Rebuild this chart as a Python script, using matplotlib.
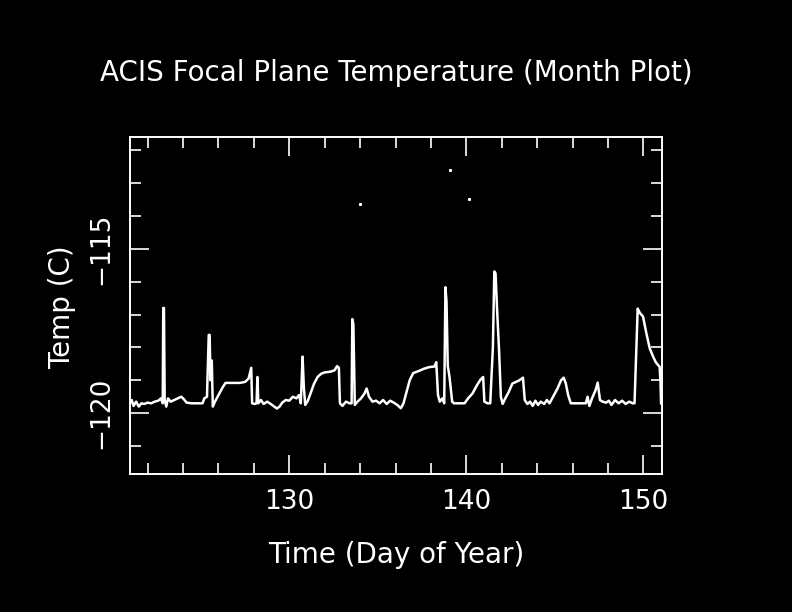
import numpy as np
import matplotlib
matplotlib.use("Agg")
import matplotlib.pyplot as plt
from matplotlib.ticker import MultipleLocator

# ACIS focal plane temperature, one month (day of year, deg C)
day = [121.00, 121.10, 121.20, 121.35, 121.50, 121.65, 121.80, 122.00, 122.20, 122.40,
       122.60, 122.75, 122.85, 122.88, 122.92, 122.96, 123.05, 123.15, 123.30, 123.50,
       123.70, 123.90, 124.05, 124.20, 124.50, 124.80, 125.10, 125.20, 125.35, 125.45,
       125.50, 125.55, 125.62, 125.68, 125.80, 125.95, 126.10, 126.25, 126.40, 126.60,
       126.90, 127.20, 127.50, 127.70, 127.85, 127.90, 128.05, 128.15, 128.20, 128.25,
       128.40, 128.55, 128.75, 128.95, 129.15, 129.30, 129.45, 129.60, 129.80, 130.00,
       130.20, 130.40, 130.55, 130.65, 130.75, 130.82, 130.90, 131.05, 131.20, 131.40,
       131.60, 131.80, 132.00, 132.30, 132.55, 132.70, 132.80, 132.86, 133.00, 133.20,
       133.40, 133.52, 133.56, 133.62, 133.70, 133.85, 134.05, 134.25, 134.37, 134.50,
       134.70, 134.90, 135.10, 135.30, 135.50, 135.70, 135.90, 136.10, 136.30, 136.45,
       136.60, 136.80, 137.00, 137.30, 137.60, 137.90, 138.20, 138.30, 138.40, 138.50,
       138.65, 138.75, 138.82, 138.88, 138.95, 139.05, 139.20, 139.30, 139.60, 139.90,
       140.10, 140.35, 140.60, 140.80, 140.95, 141.02, 141.20, 141.35, 141.50, 141.58,
       141.65, 141.75, 141.85, 141.95, 142.05, 142.20, 142.40, 142.60, 142.80, 143.00,
       143.20, 143.30, 143.45, 143.60, 143.75, 143.90, 144.05, 144.20, 144.40, 144.55,
       144.70, 144.90, 145.15, 145.35, 145.50, 145.62, 145.75, 145.90, 146.20, 146.50,
       146.75, 146.85, 146.95, 147.10, 147.30, 147.42, 147.55, 147.70, 147.90, 148.05,
       148.20, 148.40, 148.60, 148.80, 149.00, 149.20, 149.40, 149.50, 149.60, 149.68,
       149.80, 149.98, 150.17, 150.36, 150.55, 150.70, 150.85, 150.92, 150.97, 151.00]

temp = [-119.70, -119.60, -119.78, -119.65, -119.80, -119.70, -119.72, -119.68, -119.70, -119.65,
        -119.62, -119.55, -119.70, -116.80, -116.80, -119.60, -119.80, -119.55, -119.65, -119.60,
        -119.55, -119.50, -119.58, -119.68, -119.70, -119.70, -119.70, -119.55, -119.50, -117.62,
        -117.62, -119.00, -118.40, -119.80, -119.65, -119.50, -119.35, -119.20, -119.08, -119.08,
        -119.08, -119.08, -119.05, -118.95, -118.62, -119.70, -119.72, -119.70, -118.90, -119.70,
        -119.60, -119.72, -119.65, -119.72, -119.80, -119.86, -119.80, -119.68, -119.60, -119.62,
        -119.50, -119.55, -119.45, -119.70, -118.28, -119.20, -119.75, -119.62, -119.40, -119.10,
        -118.90, -118.80, -118.76, -118.74, -118.70, -118.57, -118.62, -119.70, -119.78, -119.65,
        -119.70, -119.70, -117.14, -117.30, -119.75, -119.65, -119.55, -119.40, -119.25, -119.50,
        -119.65, -119.62, -119.70, -119.60, -119.72, -119.62, -119.68, -119.75, -119.85, -119.70,
        -119.40, -119.00, -118.78, -118.72, -118.65, -118.60, -118.58, -118.45, -119.45, -119.65,
        -119.55, -119.70, -116.17, -116.60, -118.55, -118.90, -119.65, -119.70, -119.70, -119.70,
        -119.55, -119.40, -119.15, -118.98, -118.90, -119.65, -119.70, -119.70, -118.00, -115.69,
        -115.75, -117.00, -118.10, -119.50, -119.72, -119.55, -119.35, -119.10, -119.05, -119.00,
        -118.92, -119.60, -119.72, -119.65, -119.78, -119.62, -119.75, -119.65, -119.72, -119.60,
        -119.70, -119.50, -119.25, -119.00, -118.92, -119.10, -119.45, -119.70, -119.70, -119.70,
        -119.70, -119.50, -119.78, -119.55, -119.30, -119.07, -119.60, -119.65, -119.68, -119.62,
        -119.75, -119.60, -119.70, -119.62, -119.72, -119.65, -119.70, -119.70, -118.10, -116.82,
        -116.95, -117.06, -117.57, -118.03, -118.28, -118.45, -118.55, -118.59, -119.10, -119.70]

# stray single readings
out_day = [133.99, 139.07, 140.15]
out_temp = [-113.63, -112.59, -113.48]

fig = plt.figure(figsize=(7.92, 6.12), dpi=100, facecolor="black")
ax = fig.add_axes([0.1641, 0.2255, 0.6717, 0.5507], facecolor="black")

ax.plot(day, temp, color="white", lw=1.8)
ax.plot(out_day, out_temp, ls="none", marker="s", ms=1.2, color="white")

ax.set_xlim(121, 151.05)
ax.set_ylim(-121.85, -111.6)
ax.xaxis.set_major_locator(MultipleLocator(10))
ax.xaxis.set_minor_locator(MultipleLocator(2))
ax.yaxis.set_major_locator(MultipleLocator(5))
ax.yaxis.set_minor_locator(MultipleLocator(1))

for s in ax.spines.values():
    s.set_color("white")
    s.set_linewidth(1.4)
ax.tick_params(which="both", direction="in", colors="white", top=True, right=True,
               labelsize=19, width=1.2)
ax.tick_params(which="major", length=14, pad=11)
ax.tick_params(which="minor", length=8)
plt.setp(ax.get_yticklabels(), rotation=90, va="center")

fig.text(0.5, 1 - 73 / 612, "ACIS Focal Plane Temperature (Month Plot)",
         color="white", fontsize=20, ha="center", va="center")
fig.text(0.5, 1 - 555 / 612, "Time (Day of Year)", color="white",
         fontsize=20, ha="center", va="center")
fig.text(62 / 792, 1 - 307 / 612, "Temp (C)", color="white", fontsize=20,
         rotation=90, ha="center", va="center")

fig.savefig("out.png", dpi=100, facecolor="black")
